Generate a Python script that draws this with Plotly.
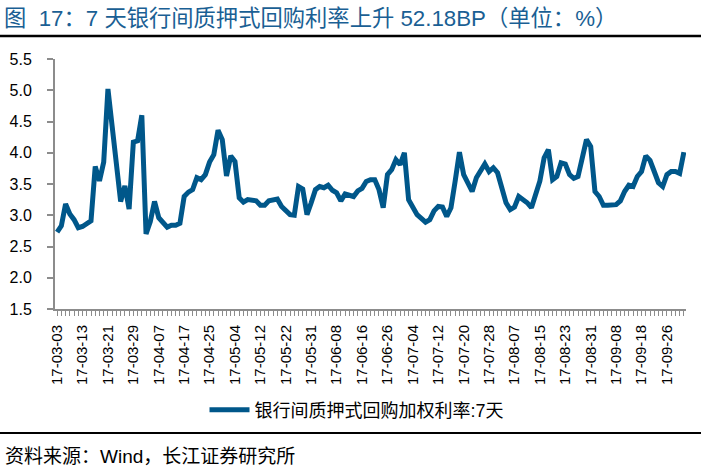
import plotly.graph_objects as go

# Trading days (interbank), 2017-03-03 .. 2017-09-30
mar_days = [3, 6, 7, 8, 9, 10, 13, 14, 15, 16, 17, 20, 21, 22, 23, 24, 27, 28, 29, 30, 31]
apr_days = [1, 5, 6, 7, 10, 11, 12, 13, 14, 17, 18, 19, 20, 21, 24, 25, 26, 27, 28]
may_days = [2, 3, 4, 5, 8, 9, 10, 11, 12, 15, 16, 17, 18, 19, 22, 23, 24, 25, 26, 27, 31]
jun_days = [1, 2, 5, 6, 7, 8, 9, 12, 13, 14, 15, 16, 19, 20, 21, 22, 23, 26, 27, 28, 29, 30]
jul_days = [3, 4, 5, 6, 7, 10, 11, 12, 13, 14, 17, 18, 19, 20, 21, 24, 25, 26, 27, 28, 31]
aug_days = [1, 2, 3, 4, 7, 8, 9, 10, 11, 14, 15, 16, 17, 18, 21, 22, 23, 24, 25, 28, 29, 30, 31]
sep_days = [1, 4, 5, 6, 7, 8, 11, 12, 13, 14, 15, 18, 19, 20, 21, 22, 25, 26, 27, 28, 29, 30]

dates = []
for m, days in [(3, mar_days), (4, apr_days), (5, may_days), (6, jun_days),
                (7, jul_days), (8, aug_days), (9, sep_days)]:
    dates += [f"17-{m:02d}-{d:02d}" for d in days]

rate_7d = [
    2.73, 2.83, 3.18, 3.02, 2.93, 2.80, 2.82, 2.86, 2.91, 3.78,
    3.55, 3.85, 5.02, 4.42, 3.80, 3.22, 3.47, 3.10, 4.17, 4.19,
    4.60, 2.70, 2.90, 3.22, 2.96, 2.88, 2.81, 2.84, 2.84, 2.87,
    3.30, 3.37, 3.41, 3.60, 3.57, 3.65, 3.85, 3.97, 4.36, 4.21,
    3.63, 3.95, 3.86, 3.28, 3.21, 3.25, 3.25, 3.23, 3.16, 3.16,
    3.23, 3.25, 3.26, 3.14, 3.06, 3.01, 3.00, 3.46, 3.42, 3.01,
    3.20, 3.41, 3.46, 3.44, 3.48, 3.40, 3.36, 3.23, 3.34, 3.32,
    3.30, 3.39, 3.43, 3.54, 3.57, 3.57, 3.41, 3.12, 3.65, 3.73,
    3.89, 3.81, 4.00, 3.25, 3.13, 3.01, 2.95, 2.89, 2.93, 3.07,
    3.14, 3.13, 2.98, 3.12, 3.55, 4.01, 3.65, 3.49, 3.38, 3.60,
    3.73, 3.82, 3.70, 3.76, 3.68, 3.43, 3.20, 3.09, 3.13, 3.30,
    3.26, 3.20, 3.12, 3.34, 3.55, 3.92, 4.05, 3.57, 3.62, 3.84,
    3.82, 3.65, 3.59, 3.62, 3.95, 4.21, 4.10, 3.38, 3.30, 3.16,
    3.16, 3.16, 3.17, 3.23, 3.38, 3.48, 3.46, 3.62, 3.70, 3.95,
    3.88, 3.70, 3.52, 3.46, 3.65, 3.70, 3.70, 3.67, 4.01,
]

y_ticks = [1.5, 2.0, 2.5, 3.0, 3.5, 4.0, 4.5, 5.0, 5.5]
label_step = 6

x_idx = list(range(len(dates)))
tick_idx = x_idx[::label_step]
tick_txt = dates[::label_step]

FONT = "Liberation Sans, Arial, Noto Sans CJK SC, sans-serif"
CJK = "Liberation Sans, Noto Sans CJK SC, sans-serif"
AXIS_GRAY = "#8c8c8c"

W, H = 701, 474
PLOT_L, PLOT_R, PLOT_T, PLOT_B = 55, 686, 59, 309

def fx(p):
    return p / W

def fy(p):
    return (H - p) / H

fig = go.Figure()
fig.add_trace(go.Scatter(
    x=x_idx, y=rate_7d, mode="lines",
    name="银行间质押式回购加权利率:7天",
    line=dict(color="#00578a", width=5),
))

fig.update_layout(
    width=W, height=H,
    margin=dict(l=0, r=0, t=0, b=0, pad=0),
    paper_bgcolor="white", plot_bgcolor="white",
    font=dict(family=FONT, color="black"),
    showlegend=True,
    legend=dict(orientation="h", x=fx(357), xanchor="center",
                y=fy(410), yanchor="middle",
                font=dict(size=18, family=FONT), itemwidth=40,
                bgcolor="rgba(0,0,0,0)"),
    xaxis=dict(
        domain=[fx(PLOT_L), fx(PLOT_R)],
        range=[-0.5, len(dates) - 0.5], automargin=False,
        tickmode="array", tickvals=tick_idx, ticktext=tick_txt,
        tickangle=-90, tickfont=dict(size=15, family=FONT),
        ticklabelstandoff=3,
        showline=True, linecolor=AXIS_GRAY, linewidth=2,
        ticks="outside", ticklen=5, tickcolor=AXIS_GRAY, tickwidth=1,
        minor=dict(dtick=1, tick0=0, ticks="outside", ticklen=5,
                   tickcolor=AXIS_GRAY, tickwidth=1),
        showgrid=False, zeroline=False, fixedrange=True,
    ),
    yaxis=dict(
        domain=[fy(PLOT_B), fy(PLOT_T)],
        range=[1.5, 5.5], automargin=False,
        tickmode="array", tickvals=y_ticks,
        ticktext=[f"{v:.1f}" for v in y_ticks],
        tickfont=dict(size=16, family=FONT),
        ticklabelstandoff=12,
        showline=True, linecolor=AXIS_GRAY, linewidth=2,
        ticks="outside", ticklen=6, tickcolor=AXIS_GRAY, tickwidth=2,
        showgrid=False, zeroline=False, fixedrange=True,
    ),
    annotations=[
        dict(text="图  17：7 天银行间质押式回购利率上升 52.18BP（单位：%）",
             xref="paper", yref="paper", x=fx(2), y=fy(19),
             xanchor="left", yanchor="middle", showarrow=False,
             font=dict(size=22.3, color="#1a5f94", family=CJK)),
        dict(text="资料来源：Wind，长江证券研究所",
             xref="paper", yref="paper", x=fx(3), y=fy(456),
             xanchor="left", yanchor="middle", showarrow=False,
             font=dict(size=19, color="black", family=CJK)),
        # rule under the title as a thin filled text box
        dict(text=" ", xref="paper", yref="paper", x=0, y=fy(36),
             xanchor="left", yanchor="middle", showarrow=False,
             width=W, height=2, bgcolor="black", borderpad=0,
             borderwidth=0, font=dict(size=1)),
    ],
    shapes=[
        dict(type="rect", xref="paper", yref="paper", layer="above",
             x0=0, x1=1, y0=fy(37.2), y1=fy(34.8),
             fillcolor="black", line=dict(width=0)),
        dict(type="line", xref="paper", yref="paper", layer="above",
             x0=0, x1=1, y0=fy(433), y1=fy(433),
             line=dict(color="black", width=2)),
    ],
)

fig.write_html("out.html", config={"displayModeBar": False},
               post_script="document.body.style.margin='0';")
